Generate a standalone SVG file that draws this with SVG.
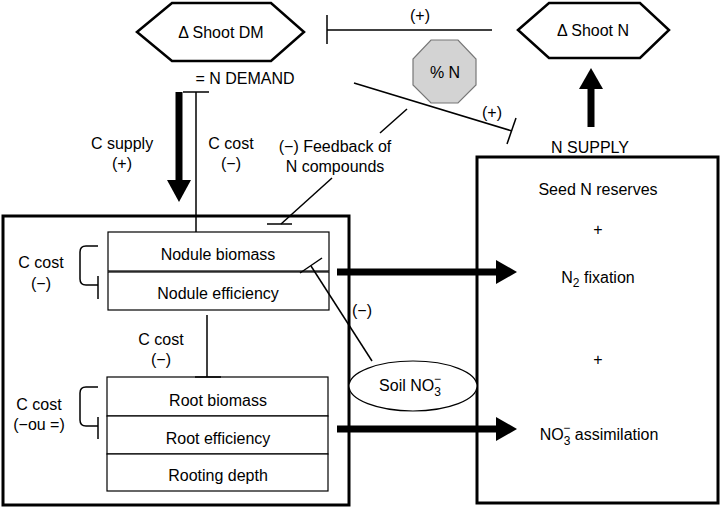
<svg xmlns="http://www.w3.org/2000/svg" width="720" height="508" viewBox="0 0 720 508">
<defs>
<style>
text{font-family:"Liberation Sans",Arial,sans-serif;font-size:16px;fill:#000;text-anchor:middle}
.sm{font-size:12px}
.thin{fill:none;stroke:#000;stroke-width:1.5}
.box{fill:#fff;stroke:#000;stroke-width:1.2}
.big{fill:none;stroke:#000;stroke-width:3}
.thick{fill:none;stroke:#000;stroke-width:7}
.head{fill:#000;stroke:none}
</style>
</defs>
<rect width="720" height="508" fill="#fff"/>

<g id="plant-box"><rect class="big" x="3" y="216" width="346" height="289"/></g>
<g id="supply-box"><rect class="big" x="477" y="157" width="241" height="346"/></g>

<g id="shoot-dm">
  <polygon points="137,32 172,3 271,3 304,32 271,61 172,61" fill="#fff" stroke="#000" stroke-width="2.5"/>
  <text x="221" y="38">Δ Shoot DM</text>
</g>
<g id="shoot-n">
  <polygon points="518,30 549,3 640,3 669,30 640,58 549,58" fill="#fff" stroke="#000" stroke-width="2.5"/>
  <text x="593" y="36">Δ Shoot N</text>
</g>
<g id="pct-n">
  <polygon points="431,40 458,40 476,59 476,85 458,103 431,103 413,85 413,59" fill="#d3d3d3" stroke="#777" stroke-width="1.2"/>
  <text x="445" y="78">% N</text>
</g>

<g id="nodule-biomass"><rect class="box" x="108" y="232" width="221" height="39"/><text x="218" y="260">Nodule biomass</text></g>
<g id="nodule-efficiency"><rect class="box" x="108" y="272" width="221" height="38"/><text x="218" y="299">Nodule efficiency</text></g>
<g id="root-biomass"><rect class="box" x="107" y="377" width="221" height="39"/><text x="218" y="406">Root biomass</text></g>
<g id="root-efficiency"><rect class="box" x="107" y="416" width="221" height="38"/><text x="218" y="444">Root efficiency</text></g>
<g id="rooting-depth"><rect class="box" x="107" y="454" width="221" height="37"/><text x="218" y="481">Rooting depth</text></g>

<g id="soil-no3">
  <ellipse cx="413" cy="386" rx="64" ry="25" fill="#fff" stroke="#000" stroke-width="1.2"/>
  <text x="410" y="391">Soil NO<tspan class="sm" dy="5">3</tspan><tspan class="sm" dx="-7" dy="-13">−</tspan></text>
</g>

<g id="connectors">
  <line class="thick" x1="179" y1="92" x2="179" y2="182"/>
  <polygon class="head" points="167,180 191,180 179,202"/>
  <line class="thin" x1="196" y1="92" x2="196" y2="232"/>
  <line class="thin" x1="183" y1="92" x2="209" y2="92"/>
  <line class="thin" x1="492" y1="30" x2="327" y2="30"/>
  <line class="thin" x1="327" y1="15" x2="327" y2="44"/>
  <line class="thin" x1="354" y1="83" x2="512" y2="131"/>
  <line class="thin" x1="516" y1="118" x2="507" y2="144"/>
  <line class="thin" x1="281" y1="224" x2="332" y2="178"/>
  <line class="thin" x1="380" y1="133" x2="407" y2="109"/>
  <line class="thin" x1="267" y1="224" x2="292" y2="224"/>
  <line class="thick" x1="591" y1="127" x2="591" y2="86"/>
  <polygon class="head" points="579,89 603,89 591,68"/>
  <line class="thick" x1="337" y1="272" x2="498" y2="272"/>
  <polygon class="head" points="496,260 496,284 517,272"/>
  <line class="thick" x1="337" y1="429" x2="498" y2="429"/>
  <polygon class="head" points="496,417 496,441 517,429"/>
  <line class="thin" x1="372" y1="361" x2="311" y2="266"/>
  <line class="thin" x1="300" y1="273" x2="322" y2="258"/>
  <line class="thin" x1="207" y1="315" x2="207" y2="377"/>
  <line class="thin" x1="195" y1="377" x2="221" y2="377"/>
  <path class="thin" d="M98,246 L86,246 Q80,246 80,252 L80,279 Q80,285 86,285 L98,285"/>
  <line class="thin" x1="98" y1="276" x2="98" y2="299"/>
  <path class="thin" d="M98,387 L86,387 Q80,387 80,393 L80,420 Q80,426 86,426 L98,426"/>
  <line class="thin" x1="98" y1="417" x2="98" y2="439"/>
</g>

<g id="labels">
  <text x="245" y="84">= N DEMAND</text>
  <text x="122" y="149">C supply</text>
  <text x="122" y="169">(+)</text>
  <text x="231" y="149">C cost</text>
  <text x="231" y="169">(−)</text>
  <text x="335" y="152">(−) Feedback of</text>
  <text x="335" y="172">N compounds</text>
  <text x="420" y="21">(+)</text>
  <text x="492" y="118">(+)</text>
  <text x="590" y="153">N SUPPLY</text>
  <text x="598" y="195">Seed N reserves</text>
  <text x="598" y="235">+</text>
  <text x="598" y="283">N<tspan class="sm" dy="4">2</tspan><tspan dy="-4"> fixation</tspan></text>
  <text x="598" y="365">+</text>
  <text x="599" y="440">NO<tspan class="sm" dy="5">3</tspan><tspan class="sm" dx="-7" dy="-13">−</tspan><tspan dy="8"> assimilation</tspan></text>
  <text x="362" y="316">(−)</text>
  <text x="41" y="268">C cost</text>
  <text x="41" y="289">(−)</text>
  <text x="161" y="345">C cost</text>
  <text x="161" y="365">(−)</text>
  <text x="39" y="410">C cost</text>
  <text x="39" y="430">(−ou =)</text>
</g>
</svg>
